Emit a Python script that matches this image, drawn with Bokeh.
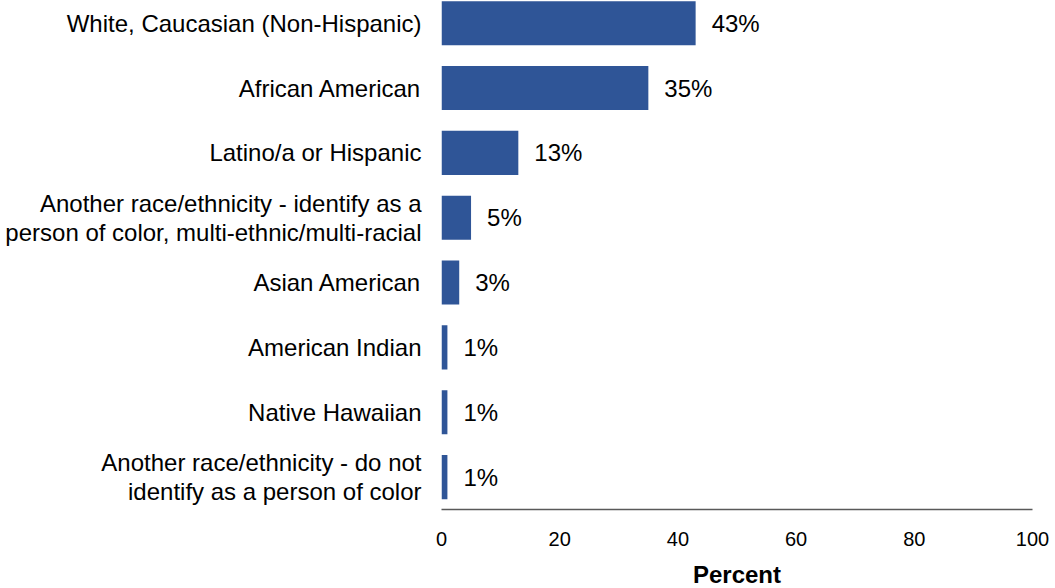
from bokeh.plotting import figure
from bokeh.models import Range1d, FixedTicker, ColumnDataSource, LabelSet
from bokeh.core.properties import value
from bokeh.embed import file_html
from bokeh.resources import INLINE

categories = [
    "White, Caucasian (Non-Hispanic)",
    "African American",
    "Latino/a or Hispanic",
    "Another race/ethnicity - identify as a\nperson of color, multi-ethnic/multi-racial",
    "Asian American",
    "American Indian",
    "Native Hawaiian",
    "Another race/ethnicity - do not\nidentify as a person of color",
]
values = [43, 35, 13, 5, 3, 1, 1, 1]
x_ticks = [0, 20, 40, 60, 80, 100]

positions = list(range(len(categories)))
labels = [f"{v}%" for v in values]

src = ColumnDataSource(dict(y=positions, v=values, lab=labels))

p = figure(
    output_backend="svg", toolbar_location=None,
    frame_width=591, frame_height=509,
    min_border_left=441, min_border_right=23, min_border_top=0, min_border_bottom=79,
    x_range=Range1d(0, 100), y_range=Range1d(7.5, -0.35),
)
p.hbar(y="y", right="v", left=0, height=0.68, source=src,
       fill_color="#2F5597", line_color=None)

p.add_layout(LabelSet(x="v", y="y", text="lab", source=src, x_offset=16,
                      text_align="left", text_baseline="middle",
                      text_font=value("Liberation Sans"), text_font_size="24px",
                      text_color="#000000"))

p.outline_line_color = None
p.xgrid.grid_line_color = None
p.ygrid.grid_line_color = None

ya = p.yaxis[0]
ya.ticker = FixedTicker(ticks=positions)
ya.major_label_overrides = {i: c for i, c in zip(positions, categories)}
ya.axis_line_color = None
ya.major_tick_line_color = None
ya.minor_tick_line_color = None
ya.major_label_standoff = 14
ya.major_label_text_font = "Liberation Sans"
ya.major_label_text_font_size = "24px"
ya.major_label_text_line_height = 1.08
ya.major_label_text_color = "#000000"

xa = p.xaxis[0]
xa.ticker = FixedTicker(ticks=x_ticks)
xa.axis_line_color = "#595959"
xa.axis_line_width = 1.5
xa.major_tick_line_color = None
xa.minor_tick_line_color = None
xa.major_label_standoff = 16
xa.major_label_text_font = "Liberation Sans"
xa.major_label_text_font_size = "20px"
xa.major_label_text_color = "#000000"
xa.axis_label = "Percent"
xa.axis_label_text_font = "Liberation Sans"
xa.axis_label_text_font_size = "24px"
xa.axis_label_text_font_style = "bold"
xa.axis_label_text_color = "#000000"
xa.axis_label_standoff = 12

open("out.html", "w").write(file_html(p, INLINE))
